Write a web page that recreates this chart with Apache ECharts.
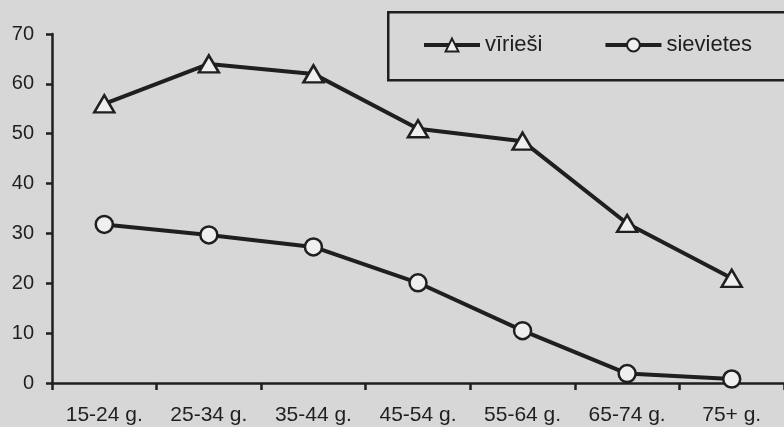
<!DOCTYPE html>
<html><head><meta charset="utf-8">
<script src="https://cdn.jsdelivr.net/npm/echarts@6/dist/echarts.min.js"></script>
<style>html,body{margin:0;padding:0;background:#d7d7d7}#c{width:784px;height:427px}</style>
</head><body><div id="c"></div>
<script>
const categories = ['15-24 g.', '25-34 g.', '35-44 g.', '45-54 g.', '55-64 g.', '65-74 g.', '75+ g.'];
const men = [56, 64, 62, 51, 48.5, 32, 21];
const women = [31.8, 29.7, 27.3, 20.1, 10.5, 1.9, 0.8];
const yTicks = [0, 10, 20, 30, 40, 50, 60, 70];

const chart = echarts.init(document.getElementById('c'));
const ink = '#1f1f1f';
const font = 'Liberation Sans, Arial, sans-serif';
chart.setOption({
  backgroundColor: '#d7d7d7',
  animation: false,
  grid: { left: 52, right: -3, top: 34, bottom: 44 },
  graphic: [{
    type: 'rect', left: 387, top: 11, z: 0,
    shape: { width: 420, height: 68 },
    style: { fill: 'transparent', stroke: ink, lineWidth: 2.5 }
  }],
  legend: {
    left: 422, top: 34,
    padding: 0,
    orient: 'horizontal',
    itemWidth: 56, itemHeight: 16, itemGap: 61,
    lineStyle: { width: 4, color: ink },
    textStyle: { fontFamily: font, fontSize: 22, color: ink },
    data: ['vīrieši', 'sievietes']
  },
  xAxis: {
    type: 'category', data: categories, boundaryGap: true,
    axisLine: { lineStyle: { color: ink, width: 2.5 } },
    axisTick: { show: true, length: 7, lineStyle: { color: ink, width: 2.5 } },
    axisLabel: { fontFamily: font, fontSize: 21, color: ink, margin: 22 }
  },
  yAxis: {
    type: 'value', min: 0, max: 70, interval: 10,
    splitLine: { show: false },
    axisLine: { show: true, lineStyle: { color: ink, width: 2.5 } },
    axisTick: { show: true, length: 6, lineStyle: { color: ink, width: 2.5 } },
    axisLabel: { fontFamily: font, fontSize: 20, color: ink, margin: 18,
      formatter: v => yTicks.includes(v) ? String(v) : '' }
  },
  series: [
    { name: 'vīrieši', type: 'line', data: men,
      symbol: 'triangle', symbolSize: [20, 17],
      lineStyle: { color: ink, width: 4 },
      itemStyle: { color: '#efefef', borderColor: ink, borderWidth: 2.5 } },
    { name: 'sievietes', type: 'line', data: women,
      symbol: 'circle', symbolSize: 17,
      lineStyle: { color: ink, width: 4 },
      itemStyle: { color: '#efefef', borderColor: ink, borderWidth: 2.5 } }
  ]
});
</script></body></html>
